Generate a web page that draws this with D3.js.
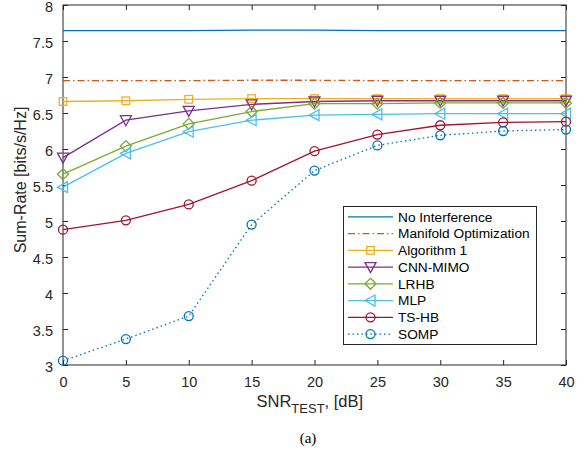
<!DOCTYPE html>
<html><head><meta charset="utf-8">
<script src="https://cdn.jsdelivr.net/npm/d3@7"></script>
<style>
html,body{margin:0;padding:0;background:#fff;}
svg{display:block;font-family:"Liberation Sans",Arial,sans-serif;}
</style></head>
<body><svg id="c" width="586" height="450"></svg>
<script>
const snr = [0,5,10,15,20,25,30,35,40];
const xTicks = [0,5,10,15,20,25,30,35,40];
const yTicks = [3,3.5,4,4.5,5,5.5,6,6.5,7,7.5,8];
const noInterference = [7.645,7.645,7.645,7.65,7.65,7.645,7.645,7.645,7.645];
const manifoldOpt = [6.95,6.95,6.95,6.955,6.955,6.95,6.95,6.95,6.95];
const algorithm1 = [6.66,6.67,6.69,6.70,6.70,6.70,6.70,6.70,6.70];
const cnnMimo = [5.88,6.40,6.53,6.62,6.66,6.67,6.67,6.67,6.67];
const lrhb = [5.65,6.04,6.35,6.52,6.63,6.63,6.64,6.64,6.64];
const mlp = [5.47,5.94,6.24,6.40,6.47,6.48,6.49,6.49,6.49];
const tsHb = [4.88,5.01,5.23,5.56,5.97,6.20,6.33,6.37,6.38];
const somp = [3.06,3.36,3.68,4.95,5.70,6.05,6.19,6.25,6.27];
const seriesNames = ["No Interference","Manifold Optimization","Algorithm 1","CNN-MIMO","LRHB","MLP","TS-HB","SOMP"];

const series = [
  {name:seriesNames[0], v:noInterference, color:"#0072BD", dash:null, marker:null},
  {name:seriesNames[1], v:manifoldOpt, color:"#D95319", dash:"7,3,1.5,3", marker:null},
  {name:seriesNames[2], v:algorithm1, color:"#EDB120", dash:null, marker:"square"},
  {name:seriesNames[3], v:cnnMimo, color:"#7E2F8E", dash:null, marker:"tridown"},
  {name:seriesNames[4], v:lrhb, color:"#77AC30", dash:null, marker:"diamond"},
  {name:seriesNames[5], v:mlp, color:"#4DBEEE", dash:null, marker:"trileft"},
  {name:seriesNames[6], v:tsHb, color:"#A2142F", dash:null, marker:"circle"},
  {name:seriesNames[7], v:somp, color:"#0072BD", dash:"1.5,3", marker:"circle"}
];

const svg = d3.select("#c");
const L=63, R=566, T=5, B=365;
const x = d3.scaleLinear().domain([0,40]).range([L,R]);
const y = d3.scaleLinear().domain([3,8]).range([B,T]);
const axisCol = "#262626";

const g = svg.append("g");
const ax = (gen, tr) => {
  const a = g.append("g").attr("transform", tr).call(gen);
  a.select(".domain").remove();
  a.selectAll("line").attr("stroke", axisCol);
  return a;
};
const xb = ax(d3.axisBottom(x).tickValues(xTicks).tickSize(-5).tickPadding(12).tickFormat(d3.format("d")), `translate(0,${B})`);
xb.selectAll("text").attr("font-size",14.5).attr("fill",axisCol);
ax(d3.axisTop(x).tickValues(xTicks).tickSize(-5).tickFormat(""), `translate(0,${T})`);
const yl = ax(d3.axisLeft(y).tickValues(yTicks).tickSize(-5).tickPadding(10).tickFormat(d=>String(d)), `translate(${L},0)`);
yl.selectAll("text").attr("font-size",14.5).attr("fill",axisCol).attr("dy","0.45em");
ax(d3.axisRight(y).tickValues(yTicks).tickSize(-5).tickFormat(""), `translate(${R},0)`);
g.append("rect").attr("x",L).attr("y",T).attr("width",R-L).attr("height",B-T)
  .attr("fill","none").attr("stroke",axisCol).attr("stroke-width",1);

function drawMarker(sel, type, cx, cy, color){
  const s = 4.5;
  if(type==="circle"){
    sel.append("circle").attr("cx",cx).attr("cy",cy).attr("r",s).attr("fill","none").attr("stroke",color).attr("stroke-width",1.3);
  } else if(type==="square"){
    sel.append("rect").attr("x",cx-3.8).attr("y",cy-3.8).attr("width",7.6).attr("height",7.6).attr("fill","none").attr("stroke",color).attr("stroke-width",1.3);
  } else if(type==="diamond"){
    sel.append("path").attr("d",`M${cx},${cy-5.5}L${cx+5.5},${cy}L${cx},${cy+5.5}L${cx-5.5},${cy}Z`).attr("fill","none").attr("stroke",color).attr("stroke-width",1.3);
  } else if(type==="tridown"){
    sel.append("path").attr("d",`M${cx-5.5},${cy-4.5}L${cx+5.5},${cy-4.5}L${cx},${cy+5.5}Z`).attr("fill","none").attr("stroke",color).attr("stroke-width",1.3);
  } else if(type==="trileft"){
    sel.append("path").attr("d",`M${cx+4.5},${cy-5.5}L${cx+4.5},${cy+5.5}L${cx-5.5},${cy}Z`).attr("fill","none").attr("stroke",color).attr("stroke-width",1.3);
  }
}

const line = d3.line().x((d,i)=>x(snr[i])).y(d=>y(d));
const plot = svg.append("g");
series.forEach(s=>{
  plot.append("path").attr("d",line(s.v)).attr("fill","none").attr("stroke",s.color)
    .attr("stroke-width",1.3).attr("stroke-dasharray",s.dash);
  if(s.marker){
    const mg = plot.append("g");
    s.v.forEach((v,i)=>drawMarker(mg,s.marker,x(snr[i]),y(v),s.color));
  }
});

const lg = svg.append("g");
lg.append("rect").attr("x",343.5).attr("y",206.5).attr("width",193).attr("height",138)
  .attr("fill","#fff").attr("stroke",axisCol).attr("stroke-width",1);
series.forEach((s,i)=>{
  const cy = 216.8 + i*16.75;
  lg.append("line").attr("x1",348).attr("x2",393).attr("y1",cy).attr("y2",cy)
    .attr("stroke",s.color).attr("stroke-width",1.3).attr("stroke-dasharray",s.dash);
  if(s.marker) drawMarker(lg,s.marker,370.5,cy,s.color);
  lg.append("text").attr("x",398).attr("y",cy).attr("dy","0.35em").attr("font-size",13.7)
    .attr("fill","#000").text(s.name);
});

const xlab = svg.append("text").attr("x",256.5).attr("y",407).attr("font-size",16.5).attr("fill",axisCol);
xlab.append("tspan").text("SNR");
xlab.append("tspan").attr("font-size",13).attr("dy",5.5).text("TEST");
xlab.append("tspan").attr("dy",-5.5).text(", [dB]");
svg.append("text").attr("transform","translate(26,180) rotate(-90)").attr("text-anchor","middle")
  .attr("font-size",16).attr("fill",axisCol).text("Sum-Rate [bits/s/Hz]");
svg.append("text").attr("x",308).attr("y",443).attr("text-anchor","middle")
  .attr("font-family","'Liberation Serif','Times New Roman',serif").attr("font-size",15).attr("fill","#000").text("(a)");
</script></body></html>
